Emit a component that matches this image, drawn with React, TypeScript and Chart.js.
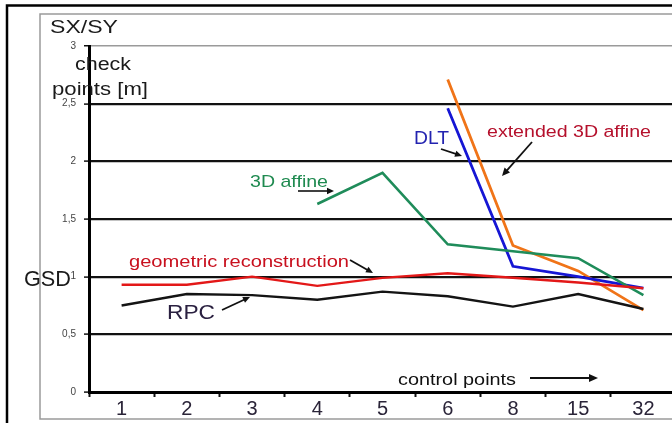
import React, { useEffect, useRef } from "react";
import { Chart, registerables } from "chart.js";

Chart.register(...registerables);

const categories = ["1", "2", "3", "4", "5", "6", "8", "15", "32"];
const rpc = [0.75, 0.85, 0.84, 0.8, 0.87, 0.83, 0.74, 0.85, 0.72];
const geometric = [0.93, 0.93, 1.0, 0.92, 0.99, 1.03, 0.99, 0.95, 0.9];
const affine3d = [null, null, null, 1.63, 1.9, 1.28, 1.22, 1.16, 0.84];
const dlt = [null, null, null, null, null, 2.46, 1.09, 1.0, 0.9];
const extended3d = [null, null, null, null, null, 2.71, 1.27, 1.05, 0.71];
const yTickValues = [0, 0.5, 1, 1.5, 2, 2.5, 3];

const FONT = '"Liberation Sans", Arial, sans-serif';

function fitText(ctx: CanvasRenderingContext2D, text: string, x: number, base: number, size: number, color: string, width: number) {
  ctx.save();
  ctx.font = `${size}px ${FONT}`;
  ctx.fillStyle = color;
  ctx.textBaseline = "alphabetic";
  ctx.textAlign = "left";
  const w = ctx.measureText(text).width;
  ctx.translate(x, base);
  ctx.scale(width / w, 1);
  ctx.fillText(text, 0, 0);
  ctx.restore();
}

function arrow(ctx: CanvasRenderingContext2D, x1: number, y1: number, x2: number, y2: number, lw = 1.8, head = 7) {
  const ang = Math.atan2(y2 - y1, x2 - x1);
  ctx.save();
  ctx.strokeStyle = "#111";
  ctx.fillStyle = "#111";
  ctx.lineWidth = lw;
  ctx.beginPath();
  ctx.moveTo(x1, y1);
  ctx.lineTo(x2 - Math.cos(ang) * head * 0.6, y2 - Math.sin(ang) * head * 0.6);
  ctx.stroke();
  ctx.beginPath();
  ctx.moveTo(x2, y2);
  ctx.lineTo(x2 - head * Math.cos(ang) + (head / 2.2) * Math.sin(ang), y2 - head * Math.sin(ang) - (head / 2.2) * Math.cos(ang));
  ctx.lineTo(x2 - head * Math.cos(ang) - (head / 2.2) * Math.sin(ang), y2 - head * Math.sin(ang) + (head / 2.2) * Math.cos(ang));
  ctx.closePath();
  ctx.fill();
  ctx.restore();
}

const framePlugin = {
  id: "framePlugin",
  beforeDraw(chart: any) {
    const ctx = chart.ctx as CanvasRenderingContext2D;
    ctx.save();
    ctx.fillStyle = "#fff";
    ctx.fillRect(0, 0, chart.width, chart.height);
    // inner gray frame
    ctx.strokeStyle = "#9a9a9a";
    ctx.lineWidth = 1.5;
    ctx.beginPath();
    ctx.moveTo(chart.width, 14);
    ctx.lineTo(40, 14);
    ctx.lineTo(40, 419);
    ctx.lineTo(chart.width, 419);
    ctx.stroke();
    // outer black frame
    ctx.strokeStyle = "#000";
    ctx.lineWidth = 2.5;
    ctx.beginPath();
    ctx.moveTo(7, chart.height);
    ctx.lineTo(7, 5.5);
    ctx.lineTo(chart.width, 5.5);
    ctx.stroke();
    ctx.restore();
  },
  afterDraw(chart: any) {
    const ctx = chart.ctx as CanvasRenderingContext2D;
    fitText(ctx, "SX/SY", 50, 33, 18, "#1a1a1a", 68);
    fitText(ctx, "check", 75, 70, 18, "#1a1a1a", 56);
    fitText(ctx, "points [m]", 52, 95, 18, "#1a1a1a", 96);
    fitText(ctx, "GSD", 24, 286, 22, "#1a1a1a", 47);
    fitText(ctx, "3D affine", 250, 187, 17, "#1f8a50", 78);
    arrow(ctx, 298, 191, 334, 191, 1.6, 7);
    fitText(ctx, "DLT", 414, 144, 18, "#2323b0", 35);
    arrow(ctx, 441, 149, 462, 156, 1.8, 7);
    fitText(ctx, "extended 3D affine", 487, 137, 16, "#b5102c", 164);
    arrow(ctx, 532, 142, 502, 176, 1.8, 8);
    fitText(ctx, "geometric reconstruction", 129, 267, 16, "#c8101e", 220);
    arrow(ctx, 350, 260, 373, 273, 1.8, 7);
    fitText(ctx, "RPC", 167, 319, 20, "#2a2040", 48);
    arrow(ctx, 222, 310, 250, 297, 1.8, 7);
    fitText(ctx, "control points", 398, 385, 16, "#111", 118);
    arrow(ctx, 530, 378, 598, 378, 2.2, 9);
  },
};

export default function App() {
  const ref = useRef<HTMLCanvasElement | null>(null);
  useEffect(() => {
    if (!ref.current) return;
    const mk = (label: string, data: (number | null)[], color: string, w = 2.6) => ({
      label,
      data,
      borderColor: color,
      backgroundColor: color,
      borderWidth: w,
      pointRadius: 0,
      tension: 0,
      spanGaps: false,
    });
    const chart = new Chart(ref.current, {
      type: "line",
      data: {
        labels: categories,
        datasets: [
          mk("RPC", rpc, "#141414", 2.4),
          mk("geometric reconstruction", geometric, "#e31818", 2.4),
          mk("3D affine", affine3d, "#1f8c5a", 2.6),
          mk("DLT", dlt, "#1616d4", 2.8),
          mk("extended 3D affine", extended3d, "#f07418", 2.8),
        ],
      },
      options: {
        responsive: false,
        animation: false,
        layout: { padding: { top: 46, right: 4, left: 0, bottom: 0 } },
        plugins: { legend: { display: false }, tooltip: { enabled: false }, title: { display: false } },
        scales: {
          x: {
            type: "category",
            offset: true,
            grid: {
              offset: true,
              drawOnChartArea: false,
              drawTicks: true,
              tickLength: 5,
              tickColor: "#111",
              tickWidth: 2,
            },
            border: { display: true, color: "#000", width: 3 },
            ticks: { font: { size: 20, family: FONT }, color: "#2a2438", padding: 0, autoSkip: false, maxRotation: 0 },
            afterFit: (s: any) => { s.height = 31; },
          },
          y: {
            min: 0,
            max: 3,
            afterBuildTicks: (s: any) => { s.ticks = yTickValues.map((v) => ({ value: v })); },
            ticks: {
              font: { size: 10, family: FONT },
              color: "#444",
              padding: 8,
              callback: (v: any) => String(v).replace(".", ","),
            },
            grid: {
              color: (c: any) => (c.tick && c.tick.value === 3 ? "#9a9a9a" : c.tick && c.tick.value === 0 ? "rgba(0,0,0,0)" : "#111"),
              lineWidth: (c: any) => (c.tick && c.tick.value === 3 ? 1.5 : 2.2),
              tickColor: "#111",
              tickLength: 5,
              tickWidth: 1.5,
            },
            border: { display: true, color: "#000", width: 3 },
            afterFit: (s: any) => { s.width = 89; },
          },
        },
      },
      plugins: [framePlugin],
    } as any);
    return () => chart.destroy();
  }, []);
  return (
    <div style={{ position: "fixed", left: 0, top: 0, width: 672, height: 423, overflow: "hidden", background: "#fff" }}>
      <canvas ref={ref} width={680} height={423} style={{ display: "block", width: 680, height: 423 }} />
    </div>
  );
}
